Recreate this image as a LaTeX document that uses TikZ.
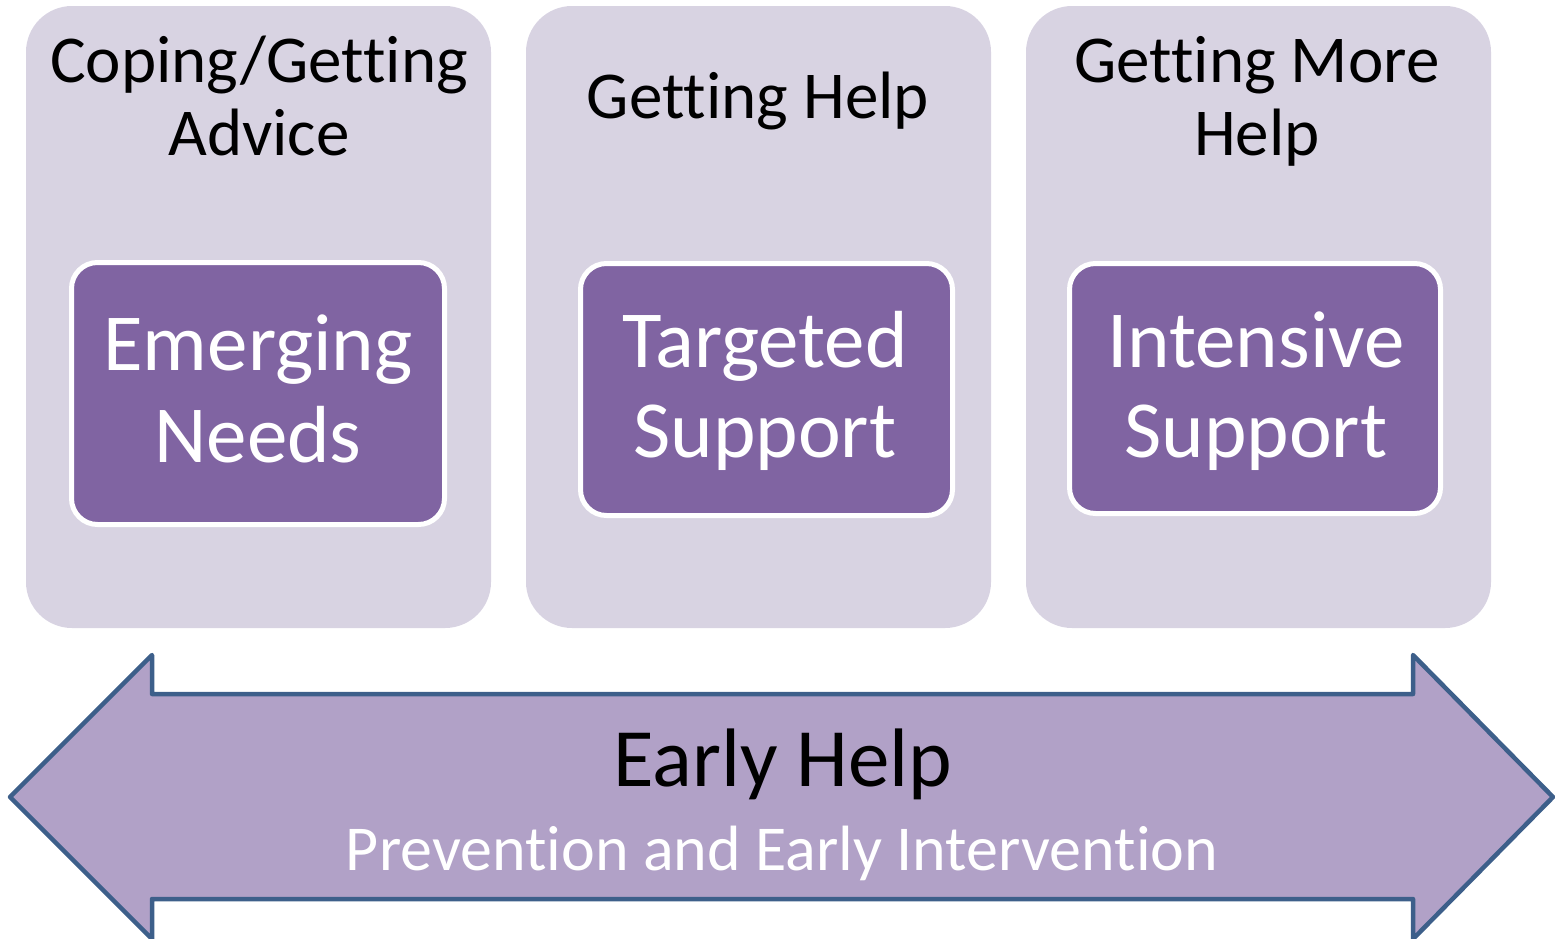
\documentclass[tikz,border=0pt]{standalone}
\usepackage{fontspec}
\setmainfont{Carlito}[Ligatures={NoCommon}]
\definecolor{panelc}{HTML}{D8D3E2}
\definecolor{innerc}{HTML}{8064A2}
\definecolor{arrowfill}{HTML}{B1A1C7}
\definecolor{arrowline}{HTML}{3D5F8A}
\begin{document}
\begin{tikzpicture}[x=1pt,y=-1pt,
  panel/.style={fill=panelc,draw=none,rounded corners=46pt},
  inner/.style={fill=innerc,draw=white,line width=5pt,rounded corners=26pt},
  ttl/.style={anchor=base,inner sep=0pt,font=\fontsize{67}{73}\selectfont,text=black},
  boxtxt/.style={anchor=base,inner sep=0pt,font=\fontsize{81}{92}\selectfont,text=white},
  bigarrow/.style={fill=arrowfill,draw=arrowline,line width=4.5pt,line join=round}]
\useasboundingbox (0,0) rectangle (1555,938);
\begin{scope}
\clip (0,0) rectangle (1555,938);
% panels
\fill[panel] (26,6) rectangle (491,628);
\fill[panel] (526,6) rectangle (991,628);
\fill[panel] (1026,6) rectangle (1491,628);
% inner boxes
\draw[inner] (71.5,262.5) rectangle (444.5,524.5);
\draw[inner] (580.5,263.5) rectangle (952.5,515.5);
\draw[inner] (1069.5,263.5) rectangle (1440.5,513.5);
% arrow
\draw[bigarrow] (10,797) -- (152,655) -- (152,694) -- (1413,694) -- (1413,655) -- (1553,797) -- (1413,939) -- (1413,899) -- (152,899) -- (152,939) -- cycle;
\end{scope}
% titles
\node[ttl] (t1a) at (259,82) {Coping/Getting};
\node[ttl] (t1b) at (259,155) {Advice};
\node[ttl] (t2a) at (758,118) {Getting Help};
\node[ttl] (t3a) at (1257,82) {Getting More};
\node[ttl] (t3b) at (1257,155) {Help};
% box texts
\node[boxtxt] (b1a) at (258,370) {Emerging};
\node[boxtxt] (b1b) at (258,462) {Needs};
\node[boxtxt] (b2a) at (765,367) {Targeted};
\node[boxtxt] (b2b) at (765,457) {Support};
\node[boxtxt] (b3a) at (1256,367) {Intensive};
\node[boxtxt] (b3b) at (1256,457) {Support};
% arrow texts
\node[anchor=base,inner sep=0pt,font=\fontsize{83}{90}\selectfont] (eh) at (783,786) {Early Help};
\node[anchor=base,inner sep=0pt,font=\fontsize{64}{70}\selectfont,text=white] (pei) at (782,870) {Prevention and Early Intervention};
\end{tikzpicture}
\end{document}
